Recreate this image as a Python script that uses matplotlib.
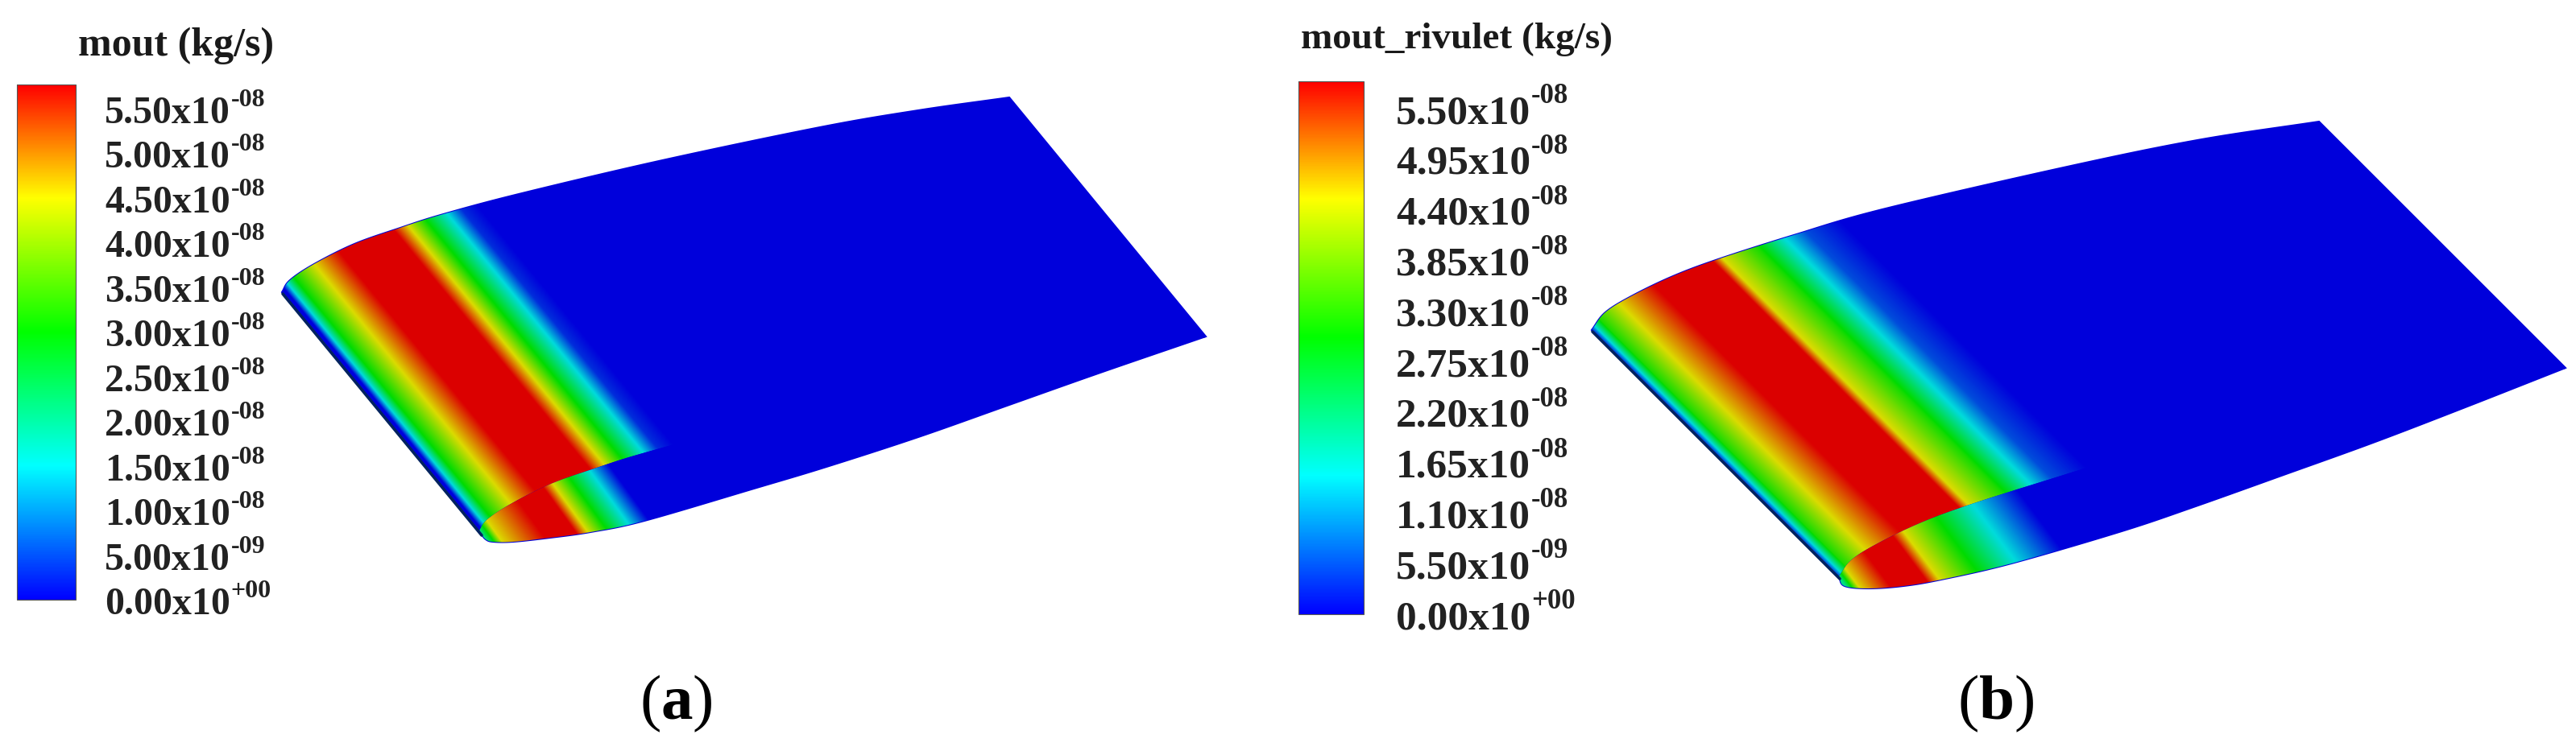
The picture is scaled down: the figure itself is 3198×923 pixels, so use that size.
import matplotlib
matplotlib.use('Agg')
import matplotlib.pyplot as plt
import numpy as np
from matplotlib.cm import ScalarMappable
from matplotlib.colors import LinearSegmentedColormap, Normalize
from matplotlib.patches import PathPatch
from matplotlib.path import Path

plt.rcParams['font.family'] = ['Liberation Serif', 'DejaVu Serif']
plt.rcParams['mathtext.fontset'] = 'custom'
plt.rcParams['mathtext.rm'] = 'Liberation Serif'
plt.rcParams['mathtext.bf'] = 'Liberation Serif:bold'
plt.rcParams['mathtext.default'] = 'regular'

W, H = 3198, 923

# colour scale, 1e-8 kg/s
VMAX = 5.5
stops = [0.0, 0.26, 0.52, 0.78, 1.0]
stop_colors = [(0, 0, 1), (0, 1, 1), (0, 1, 0), (1, 1, 0), (1, 0, 0)]
SHADE = 0.86

# legends
title_a = 'mout (kg/s)'
title_b = 'mout_rivulet (kg/s)'
ticks_a = ['5.50', '5.00', '4.50', '4.00', '3.50', '3.00', '2.50', '2.00', '1.50', '1.00', '5.00', '0.00']
ticks_b = ['5.50', '4.95', '4.40', '3.85', '3.30', '2.75', '2.20', '1.65', '1.10', '5.50', '0.00']
exps_a = ['-08'] * 10 + ['-09', '+00']
exps_b = ['-08'] * 9 + ['-09', '+00']

# wing (a) outline, image pixels
top_x_a = [350, 360, 390, 440, 497, 547, 640, 818, 1018, 1140, 1253]
top_y_a = [363, 348, 328, 303, 283, 267, 242, 200, 158, 137, 121]
low_x_a = [597, 603, 612, 637, 683, 733, 800, 936, 1026, 1140, 1253, 1366, 1497]
low_y_a = [663, 670, 673, 673, 668, 661, 647, 607, 580, 543, 503, 463, 418]
span_a = (244, 298)

# mout along the chord, upper surface and end section of (a)
chord_a = [59, 68, 82, 121, 165, 255, 277, 305, 338, 360, 384]
mout_a = [0.0, 1.43, 2.86, 4.29, 5.5, 5.5, 4.29, 2.86, 1.43, 0.3, 0.0]
end_chord_a = [120, 128, 138, 195, 238, 253, 279, 311, 340]
end_mout_a = [2.0, 2.86, 4.29, 5.5, 5.5, 4.29, 2.86, 1.43, 0.0]

# wing (b) outline
top_x_b = [1976, 1993, 2027, 2077, 2133, 2227, 2337, 2562, 2728, 2879]
top_y_b = [410, 388, 367, 343, 322, 292, 260, 208, 174, 151]
low_x_b = [2283, 2290, 2320, 2363, 2410, 2497, 2634, 2723, 2835, 2946, 3058, 3185]
low_y_b = [717, 728, 731, 728, 720, 700, 660, 630, 590, 550, 507, 457]
span_b = (306, 307)

chord_b = [1566, 1576, 1590, 1634, 1700, 1803, 1818, 1875, 1918, 1955, 2012]
mout_b = [0.0, 1.51, 3.03, 4.29, 5.5, 5.5, 4.29, 3.03, 1.51, 0.5, 0.0]
end_chord_b = [1745, 1752, 1760, 1800, 1850, 1867, 1915, 1975, 2048]
end_mout_b = [2.0, 3.03, 4.29, 5.5, 5.5, 4.29, 3.03, 1.51, 0.0]

cmap = LinearSegmentedColormap.from_list('rainbow_bar', list(zip(stops, stop_colors)), N=512)
surf_colors = [tuple(SHADE * v for v in c) for c in stop_colors]
surf_cmap = LinearSegmentedColormap.from_list('rainbow_surf', list(zip(stops, surf_colors)), N=512)
norm = Normalize(0, VMAX)

fig = plt.figure(figsize=(W / 100, H / 100), dpi=100)
ax = fig.add_axes([0, 0, 1, 1])


def smooth(xs, ys, n=14):
    # Catmull-Rom through the outline points, so the clip edge has no kinks
    p = np.column_stack([xs, ys]).astype(float)
    p = np.vstack([2 * p[0] - p[1], p, 2 * p[-1] - p[-2]])
    out = []
    for i in range(1, len(p) - 2):
        t = np.linspace(0, 1, n, endpoint=False)[:, None]
        out.append(0.5 * (2 * p[i] + (p[i + 1] - p[i - 1]) * t
                          + (2 * p[i - 1] - 5 * p[i] + 4 * p[i + 1] - p[i + 2]) * t ** 2
                          + (3 * p[i] - p[i - 1] - 3 * p[i + 1] + p[i + 2]) * t ** 3))
    out.append(p[-2:-1])
    return np.vstack(out)


def field(pts, slope, chord, vals):
    # values across the clipped polygon, bands run along x - slope * y
    patch = PathPatch(Path(pts, closed=False), fc='none', ec='none', transform=ax.transData)
    ax.add_patch(patch)
    x0, y0 = pts.min(axis=0)
    x1, y1 = pts.max(axis=0)
    X, Y = np.meshgrid(np.arange(x0, x1 + 1), np.arange(y0, y1 + 1))
    C = np.interp(X - slope * Y, chord, vals)
    im = ax.imshow(C, extent=(x0, x1, y1, y0), cmap=surf_cmap, norm=norm, aspect='auto',
                   interpolation='bilinear', zorder=1)
    im.set_clip_path(patch)


def wing(top_x, top_y, low_x, low_y, span, chord, vals, end_chord, end_vals, end_slope):
    top = smooth(top_x, top_y)
    low = smooth(low_x, low_y)
    slope = span[0] / span[1]
    inner = top + span

    # whole silhouette first, so nothing shows between the two surfaces
    sil = np.vstack([top, low[::-1]])
    ax.fill(sil[:, 0], sil[:, 1], color=surf_cmap(0.0), lw=1.5, zorder=0.5)

    field(np.vstack([top, inner[::-1], top[:1]]), slope, chord, vals)
    field(np.vstack([inner, low[::-1], inner[:1]]), end_slope, end_chord, end_vals)

    # dark rim along the leading edge
    ax.plot([top[0, 0] + 1, low[0, 0] + 1], [top[0, 1] + 2, low[0, 1] + 2], color='#03235f', lw=2.6,
            solid_capstyle='round', zorder=3)


def legend(x0, x1, y0, y1, title, tx, ty, tsize, labels, exps, lx, ly0, ly1, lsize, esize, raise_px):
    cax = fig.add_axes([x0 / W, 1 - y1 / H, (x1 - x0) / W, (y1 - y0) / H])
    cb = fig.colorbar(ScalarMappable(norm=norm, cmap=cmap), cax=cax, ticks=[])
    cb.outline.set_edgecolor('#555555')
    cb.outline.set_linewidth(0.8)
    ax.text(tx, ty, title, fontsize=tsize, fontweight='bold', color='#1a1a1a', va='baseline')
    renderer = fig.canvas.get_renderer()
    for lab, ex, y in zip(labels, exps, np.linspace(ly0, ly1, len(labels))):
        t = ax.text(lx, y, lab + 'x10', fontsize=lsize, fontweight='bold', color='#222222', va='baseline')
        end = t.get_window_extent(renderer).x1
        ax.text(end + 1, y - raise_px, ex, fontsize=esize, fontweight='bold', color='#222222', va='baseline')


ax.set_xlim(0, W)
ax.set_ylim(H, 0)

wing(top_x_a, top_y_a, low_x_a, low_y_a, span_a, chord_a, mout_a, end_chord_a, end_mout_a, 0.72)
wing(top_x_b, top_y_b, low_x_b, low_y_b, span_b, chord_b, mout_b, end_chord_b, end_mout_b, 0.75)

ax.set_xlim(0, W)
ax.set_ylim(H, 0)
ax.axis('off')

legend(21, 94, 105, 745, title_a, 97, 69, 36, ticks_a, exps_a, 130, 153, 763, 34.5, 23, 21)
legend(1612, 1693, 101, 763, title_b, 1615, 60, 34, ticks_b, exps_b, 1733, 153, 781, 37, 25, 25)

ax.text(839, 893, r'($\mathbf{a}$)', fontsize=57, ha='center', va='baseline', color='black')
ax.text(2478, 893, r'($\mathbf{b}$)', fontsize=57, ha='center', va='baseline', color='black')

fig.savefig('out.png', dpi=100, facecolor='white')
